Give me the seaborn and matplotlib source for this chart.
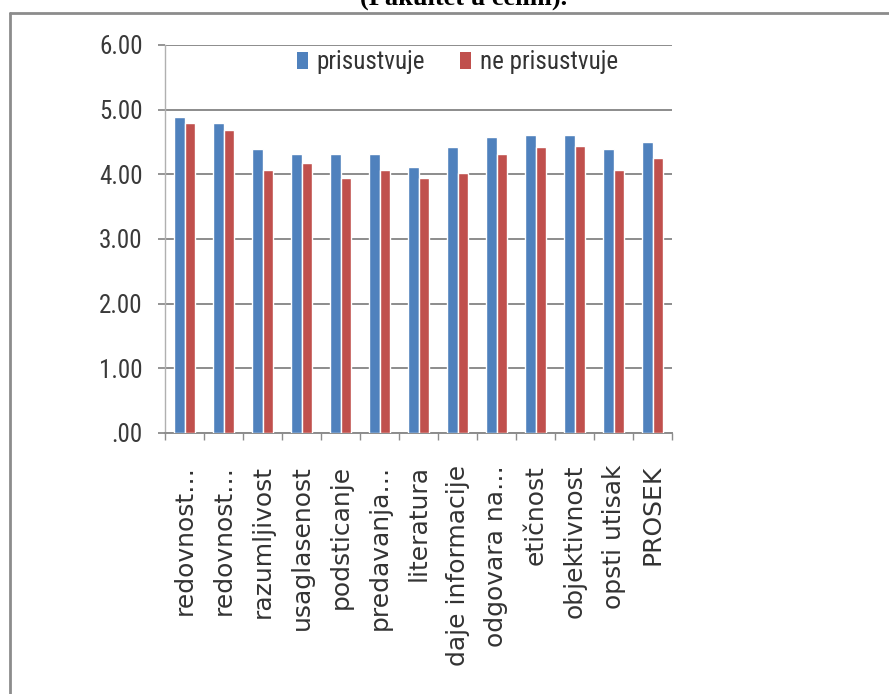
import matplotlib
matplotlib.use('Agg')
import matplotlib.pyplot as plt
from matplotlib import font_manager
from matplotlib.lines import Line2D
from matplotlib.patches import Patch
import seaborn as sns
import pandas as pd

# ---- data ----
categories = ['redovnost…', 'redovnost…', 'razumljivost', 'usaglasenost',
              'podsticanje', 'predavanja…', 'literatura', 'daje informacije',
              'odgovara na…', 'etičnost', 'objektivnost', 'opsti utisak', 'PROSEK']
prisustvuje = [4.88, 4.80, 4.39, 4.31, 4.32, 4.32, 4.11, 4.42, 4.57, 4.61, 4.61, 4.39, 4.50]
ne_prisustvuje = [4.79, 4.69, 4.06, 4.18, 3.94, 4.06, 3.94, 4.02, 4.32, 4.42, 4.44, 4.06, 4.25]
series_names = ['prisustvuje', 'ne prisustvuje']
y_ticks = [0, 1, 2, 3, 4, 5, 6]
y_tick_labels = ['.00', '1.00', '2.00', '3.00', '4.00', '5.00', '6.00']
title = '(Fakultet u celini).'

colors = ['#4F81BD', '#C0504D']
grid_col = '#8c8c8c'

sns.set_theme(style='white')
plt.rcParams['font.family'] = ['DejaVu Sans']

available = {f.name for f in font_manager.fontManager.ttflist}
narrow = None
for cand in ['Liberation Sans Narrow', 'Roboto Condensed', 'Open Sans Condensed']:
    if cand in available:
        narrow = cand
        break
if narrow is None:
    narrow_prop = dict(family='DejaVu Sans', size=14)
else:
    narrow_prop = dict(family=narrow, size=18)

n = len(categories)
df = pd.DataFrame({
    'idx': list(range(n)) * 2,
    'vrednost': prisustvuje + ne_prisustvuje,
    'grupa': [series_names[0]] * n + [series_names[1]] * n,
})

fig = plt.figure(figsize=(8.89, 6.94), dpi=100)
ax = fig.add_axes([165 / 889, 1 - 433 / 694, (672 - 165) / 889, (433 - 45) / 694])

sns.barplot(data=df, x='idx', y='vrednost', hue='grupa', hue_order=series_names,
            palette=colors, width=0.54, gap=0, saturation=1, errorbar=None,
            ax=ax, legend=False, zorder=3)

ax.set_xlim(-0.5, n - 0.5)
ax.set_ylim(0, 6)
ax.set_xlabel('')
ax.set_ylabel('')

ax.set_yticks(y_ticks)
ax.set_yticklabels(y_tick_labels, fontfamily=narrow_prop['family'],
                   fontsize=narrow_prop['size'], color='#3a3a3a')
ax.set_xticks(list(range(n)))
ax.set_xticklabels(categories, rotation=90, fontsize=18, color='#333333')
ax.set_xticks([i - 0.5 for i in range(n + 1)], minor=True)

ax.tick_params(axis='x', which='major', length=0, pad=23)
ax.tick_params(axis='x', which='minor', length=5, width=1, color=grid_col, bottom=True)
ax.tick_params(axis='y', which='major', length=5, width=1.3, color=grid_col, pad=11, left=True)

ax.yaxis.grid(True, color=grid_col, linewidth=1.4)
ax.xaxis.grid(False)
ax.set_axisbelow(True)
for s in ['top', 'right']:
    ax.spines[s].set_visible(False)
ax.spines['left'].set_color('#b0b0b0')
ax.spines['left'].set_linewidth(1.0)
ax.spines['bottom'].set_color(grid_col)
ax.spines['bottom'].set_linewidth(1.4)

handles = [Patch(facecolor=c, edgecolor='none') for c in colors]
ax.legend(handles, series_names, loc='center', bbox_to_anchor=(0.577, 0.955),
          ncol=2, frameon=False, handlelength=0.45, handleheight=0.7,
          handletextpad=0.35, columnspacing=1.4, borderaxespad=0,
          prop={'family': narrow_prop['family'], 'size': narrow_prop['size']},
          labelcolor='#333333')

# outer frame (left and top edges visible)
fig.add_artist(Line2D([10 / 889, 10 / 889], [0, 1 - 13 / 694], transform=fig.transFigure,
                      color='#8c8c8c', linewidth=2))
fig.add_artist(Line2D([10 / 889, 1], [1 - 13 / 694, 1 - 13 / 694], transform=fig.transFigure,
                      color='#8c8c8c', linewidth=2))

fig.text(463.5 / 889, 1 - 5 / 694, title, ha='center', va='baseline',
         family=['Liberation Serif', 'DejaVu Serif'], fontweight='bold', fontsize=19,
         color='black')

fig.savefig('out.png', dpi=100)
